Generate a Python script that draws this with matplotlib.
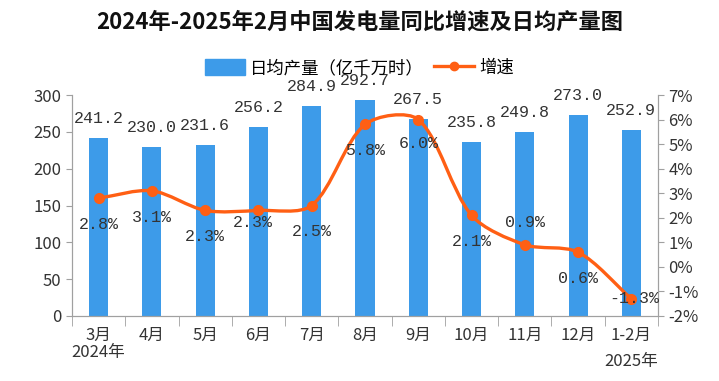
import numpy as np
import matplotlib
matplotlib.use('Agg')
import matplotlib.pyplot as plt
from matplotlib.path import Path
from matplotlib.patches import PathPatch

plt.rcParams['font.family'] = ['Noto Sans CJK SC', 'DejaVu Sans']

# data
months = ['3月\n2024年', '4月', '5月', '6月', '7月', '8月', '9月', '10月', '11月', '12月', '1-2月\n2025年']
daily_output = [241.2, 230.0, 231.6, 256.2, 284.9, 292.7, 267.5, 235.8, 249.8, 273.0, 252.9]
growth = [2.8, 3.1, 2.3, 2.3, 2.5, 5.8, 6.0, 2.1, 0.9, 0.6, -1.3]
left_ticks = [0, 50, 100, 150, 200, 250, 300]
right_ticks = [-2, -1, 0, 1, 2, 3, 4, 5, 6, 7]
right_tick_labels = ['-2%', '-1%', '0%', '1%', '2%', '3%', '4%', '5%', '6%', '7%']

# label placement for the growth labels (points)
growth_offsets = [(0, -19), (0, -19), (0, -19), (-4, -9), (0, -19), (0, -19),
                  (0, -17), (0, -19), (0, 16), (0, -19), (2, 0)]

BLUE = '#3d9be9'
ORANGE = '#ff5f14'
GREY = '#a0a0a0'

fig = plt.figure(figsize=(7.19, 3.81), dpi=100)
ax = fig.add_axes([72 / 719, 1 - 316 / 381, (658 - 72) / 719, (316 - 95) / 381])
ax2 = ax.twinx()

x = np.arange(len(months))
ax.bar(x, daily_output, width=0.36, color=BLUE, zorder=2)
ax.set_xlim(-0.5, len(months) - 0.5)
ax.set_ylim(0, 300)
ax.set_yticks(left_ticks)
ax2.set_ylim(-2, 7)
ax2.set_yticks(right_ticks)
ax2.set_yticklabels(right_tick_labels)

for xi, v in zip(x, daily_output):
    ax.annotate('%.1f' % v, (xi, v), xytext=(0, 14), textcoords='offset points',
                ha='center', va='center', fontsize=12, family='Liberation Mono',
                color='#333333')

# smoothed growth line: bezier through the points, tangents scaled by
# segment length on screen (spreadsheet style smoothing)
pts = ax2.transData.transform(np.column_stack([x, growth]).astype(float))
ext = np.vstack([pts[0], pts, pts[-1]])
verts = [pts[0]]
codes = [Path.MOVETO]
for i in range(len(pts) - 1):
    p0, p1, p2, p3 = ext[i], ext[i + 1], ext[i + 2], ext[i + 3]
    d01 = np.hypot(*(p1 - p0))
    d12 = np.hypot(*(p2 - p1))
    d23 = np.hypot(*(p3 - p2))
    c1 = p1 + (p2 - p0) * 0.3 * d12 / max(d01 + d12, 1e-9)
    c2 = p2 - (p3 - p1) * 0.3 * d12 / max(d12 + d23, 1e-9)
    verts += [c1, c2, p2]
    codes += [Path.CURVE4] * 3
verts = ax2.transData.inverted().transform(np.array(verts))
ax2.add_patch(PathPatch(Path(verts, codes), fill=False, edgecolor=ORANGE, lw=2.4, zorder=3))
ax2.plot(x, growth, 'o', color=ORANGE, ms=7, zorder=4)

for xi, g, off in zip(x, growth, growth_offsets):
    ax2.annotate('%.1f%%' % g, (xi, g), xytext=off, textcoords='offset points',
                 ha='center', va='center', fontsize=12, family='Liberation Mono',
                 color='#333333', zorder=5)

# category ticks between bars
ax.set_xticks(x)
ax.set_xticklabels(months)
ax.tick_params(axis='x', length=0, pad=8, labelsize=12, colors='#333333')
ax.set_xticks(np.arange(-0.5, len(months)), minor=True)
ax.tick_params(axis='x', which='minor', length=7, color=GREY, direction='out')
for lab in ax.get_xticklabels():
    lab.set_linespacing(1.0)
ax.get_xticklabels()[-1].set_linespacing(1.7)

for a in (ax, ax2):
    a.spines['top'].set_visible(False)
    for s in ('left', 'right', 'bottom'):
        a.spines[s].set_color(GREY)
    a.tick_params(axis='y', length=4, color=GREY, labelsize=12, labelcolor='#333333')

handles = [plt.Rectangle((0, 0), 1, 1, color=BLUE),
           plt.Line2D([], [], color=ORANGE, lw=2.4, marker='o', ms=6)]
fig.legend(handles, ['日均产量（亿千万时）', '增速'], loc='center', ncol=2,
           bbox_to_anchor=(0.5, 1 - 68 / 381), frameon=False, fontsize=12.5,
           handlelength=2.3, handleheight=1.0, columnspacing=0.6, handletextpad=0.3)

fig.text(0.5, 1 - 22 / 381, '2024年-2025年2月中国发电量同比增速及日均产量图',
         ha='center', va='center', fontsize=16, fontweight='bold', color='#111111')

fig.savefig('out.png', dpi=100)
